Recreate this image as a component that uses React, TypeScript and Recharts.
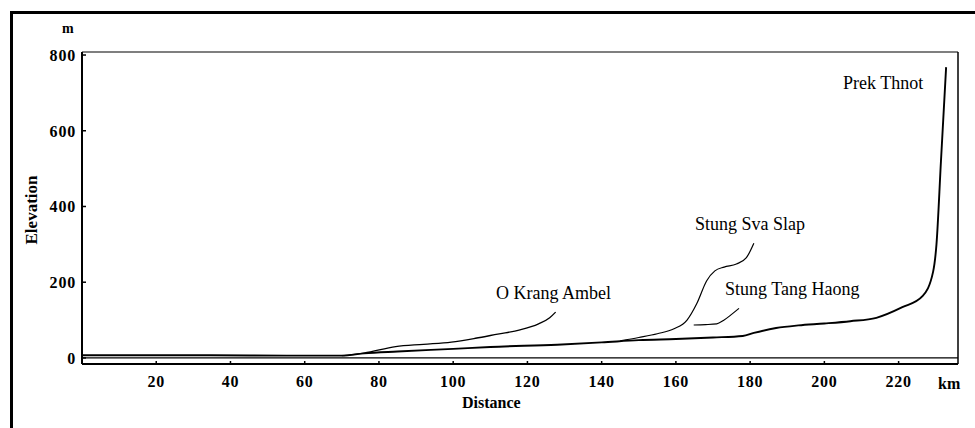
import { LineChart, Line, XAxis, YAxis } from "recharts";

// elevation profiles, [km, m]
const prekThnot = [
  [0, 7], [30, 7], [60, 6], [70, 6], [76, 12], [85, 17], [100, 24], [110, 29],
  [128, 35], [140, 41], [150, 47], [160, 50], [170, 54], [178, 58], [181, 66],
  [187, 79], [193, 86], [200, 91], [207, 97], [214, 106], [221, 134],
  [226.5, 164], [229.3, 228], [230.2, 300], [231.4, 518], [232.8, 768]
];
const oKrangAmbel = [
  [70, 6], [76, 13], [84.5, 30], [92, 36], [99.5, 42], [106, 52], [112, 63],
  [118, 74], [123, 90], [126, 106], [127.6, 121]
];
const stungSvaSlap = [
  [145, 45], [150, 54], [155, 64], [159.5, 77], [163, 100], [165.6, 143],
  [168.3, 204], [170.5, 230], [173, 240], [176.3, 248], [179, 265], [181, 303]
];
const stungTangHaong = [
  [164.8, 87], [168, 88], [171, 90], [172.8, 99], [175, 115], [177, 131]
];
const baseLine = [[0, 0], [236, 0]];

const xTicks = [20, 40, 60, 80, 100, 120, 140, 160, 180, 200, 220];
const yTicks = [0, 200, 400, 600, 800];
const rightTicks = [200, 400, 600];

const toRows = (pts: number[][]) => pts.map(([km, m]) => ({ km, m }));

const serif = "Liberation Serif";

const XTick = ({ x, y, payload }: any) => (
  <g>
    <line x1={x} y1={y} x2={x} y2={y - 3} stroke="#000" strokeWidth={1.5} />
    <text x={x} y={y + 23} textAnchor="middle" style={{ fontFamily: serif, fontWeight: "bold", fontSize: 16, letterSpacing: 0.8 }} fill="#000">
      {payload.value}
    </text>
  </g>
);

const YTick = ({ x, y, payload }: any) => (
  <g>
    <line x1={x} y1={y} x2={x + 4} y2={y} stroke="#000" strokeWidth={1.5} />
    <text x={x - 6} y={y + 6} textAnchor="end" style={{ fontFamily: serif, fontWeight: "bold", fontSize: 16, letterSpacing: 0.8 }} fill="#000">
      {payload.value}
    </text>
  </g>
);

const RTick = ({ x, y }: any) => (
  <line x1={x} y1={y} x2={x - 4} y2={y} stroke="#000" strokeWidth={1.2} />
);

const label = (text: string, left: number, top: number, bold = false, size = 18) => (
  <div style={{
    position: "absolute", left, top, fontFamily: serif, fontSize: size,
    fontWeight: bold ? "bold" : "normal", whiteSpace: "nowrap", lineHeight: 1, color: "#000"
  }}>{text}</div>
);

export default function App() {
  const lines = [
    { name: "base", pts: baseLine, w: 1.2 },
    { name: "Prek Thnot", pts: prekThnot, w: 1.9 },
    { name: "O Krang Ambel", pts: oKrangAmbel, w: 1.3 },
    { name: "Stung Sva Slap", pts: stungSvaSlap, w: 1.2 },
    { name: "Stung Tang Haong", pts: stungTangHaong, w: 1.2 }
  ];
  return (
    <div style={{ position: "fixed", left: 0, top: 0, width: 975, height: 428, background: "#fff", overflow: "hidden", fontFamily: serif }}>
      <div style={{
        position: "absolute", left: 10, top: 11, width: 1000, height: 450,
        borderLeft: "3px solid #000", borderTop: "3px solid #000"
      }} />
      <div style={{ position: "absolute", left: 0, top: 0 }}>
        <LineChart width={975} height={428} margin={{ top: 50, right: 15, bottom: 24, left: 22 }}>
          <XAxis type="number" dataKey="km" domain={[0, 236]} ticks={xTicks} allowDataOverflow
            tickSize={0} tickMargin={0} tickLine={false} tick={<XTick />} height={40}
            axisLine={{ stroke: "#000", strokeWidth: 2 }} />
          <XAxis xAxisId="t" orientation="top" type="number" domain={[0, 236]} height={2}
            tick={false} tickLine={false} axisLine={{ stroke: "#000", strokeWidth: 1.2 }} />
          <YAxis type="number" domain={[-16, 808]} ticks={yTicks} allowDataOverflow width={60}
            tickSize={0} tickMargin={0} tickLine={false} tick={<YTick />}
            axisLine={{ stroke: "#000", strokeWidth: 2 }} />
          <YAxis yAxisId="r" orientation="right" type="number" domain={[-16, 808]} ticks={rightTicks}
            width={2} tickSize={0} tickMargin={0} tickLine={false} tick={<RTick />}
            axisLine={{ stroke: "#000", strokeWidth: 1.5 }} />
          {lines.map((l) => (
            <Line key={l.name} data={toRows(l.pts)} dataKey="m" type="monotone" stroke="#000"
              strokeWidth={l.w} dot={false} isAnimationActive={false} />
          ))}
        </LineChart>
      </div>
      {label("m", 62, 22, true, 14)}
      {label("km", 938, 376, true, 16)}
      {label("Distance", 462, 395, true, 16)}
      <div style={{
        position: "absolute", left: 31, top: 210, transform: "translate(-50%, -50%) rotate(-90deg)",
        fontFamily: serif, fontWeight: "bold", fontSize: 17, whiteSpace: "nowrap", lineHeight: 1
      }}>Elevation</div>
      {label("O Krang Ambel", 496, 284)}
      {label("Stung Sva Slap", 695, 215)}
      {label("Stung Tang Haong", 725, 280)}
      {label("Prek Thnot", 843, 74)}
    </div>
  );
}
